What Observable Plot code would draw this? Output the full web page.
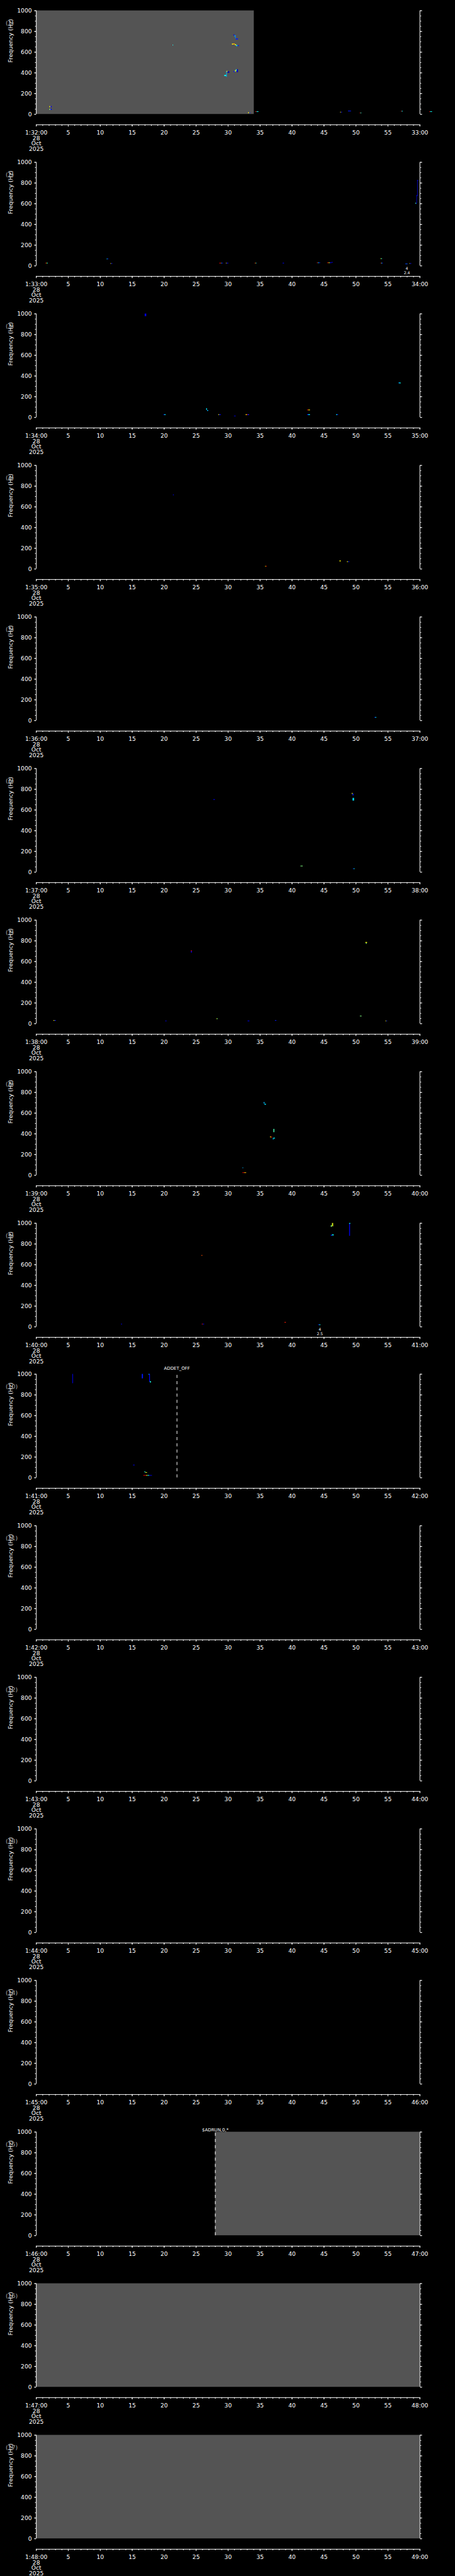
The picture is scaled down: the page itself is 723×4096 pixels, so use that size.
<!DOCTYPE html>
<html>
<head>
<meta charset="utf-8">
<script src="https://cdn.jsdelivr.net/npm/d3@7"></script>
<script src="https://cdn.jsdelivr.net/npm/@observablehq/plot@0.6"></script>
<style>
html, body { margin: 0; padding: 0; background: #000; }
#chart svg { display: block; }
</style>
</head>
<body>
<div id="chart"></div>
<script>
// ---------------- data ----------------
const startLabels = ["1:32:00","1:33:00","1:34:00","1:35:00","1:36:00","1:37:00","1:38:00","1:39:00","1:40:00",
                     "1:41:00","1:42:00","1:43:00","1:44:00","1:45:00","1:46:00","1:47:00","1:48:00"];
const endLabels = ["33:00","34:00","35:00","36:00","37:00","38:00","39:00","40:00","41:00",
                   "42:00","43:00","44:00","45:00","46:00","47:00","48:00","49:00"];
const dateLines = ["28", "Oct", "2025"];
const secMajor = [0,5,10,15,20,25,30,35,40,45,50,55,60];
const freqMajor = [0,200,400,600,800,1000];

// gray (no-data) blocks: panel number, start s, end s
const grayPanels = [1, 15, 16, 17];
const grayStart  = [0, 28, 0, 0];
const grayEnd    = [34.07, 60, 60, 60];

// event markers (dashed line + label)
const eventPanels = [10, 15];
const eventTimes  = [22, 28];
const eventLabels = ["ADDET_OFF", "$ADRUN,0,*"];

// small notes under the plot
const notePanels = [2, 9];
const noteTimes  = [57.96, 44.35];
const noteTexts  = ["4\n2.4", "4\n2.5"];

// spectrogram cells: [t start (s), t end (s), f low (Hz), f high (Hz), level 0..1]
const cells1 = [
  [2.1,2.25,66,76,0.63],[2.25,2.45,66,76,0.12],
  [2.1,2.25,40,50,0.5],[2.25,2.45,40,50,0.12],
  [21.25,21.33,662,670,0.95],[21.33,21.45,662,670,0.38],
  [29.45,29.75,366,378,0.38],[29.75,29.85,358,415,0.3],[29.8,29.95,408,416,0.63],
  [29.96,30.25,398,412,0.05],
  [30.88,31.05,758,768,0.1],[31.05,31.15,745,762,0.3],[31.15,31.25,728,760,0.25],[31.25,31.6,720,730,0.15],
  [30.65,30.85,670,680,0.63],[30.85,31.1,672,682,0.72],[31.1,31.3,664,674,0.6],[31.3,31.5,656,666,0.38],[31.5,31.75,656,664,0.15],
  [30.9,31.1,405,414,0.15],[31.1,31.25,410,422,0.6],[31.25,31.4,416,432,0.45],[31.4,31.6,404,432,0.08],
  [33.15,33.35,9,16,0.63],[33.35,33.55,9,14,0.15],
  [34.3,34.5,20,26,0.9],[34.5,34.8,20,26,0.38],
  [47.57,47.7,15,21,0.63],[47.7,47.88,15,21,0.12],
  [48.8,49.27,26,32,0.15],
  [50.63,50.75,7,13,0.9],[50.75,50.89,7,13,0.42],
  [57.08,57.2,24,30,0.9],[57.2,57.36,24,30,0.38],
  [61.5,61.65,20,26,0.9],[61.65,61.95,20,26,0.38]
];
const cells2 = [
  [1.48,1.6,21,27,0.9],[1.6,1.72,21,27,0.63],[1.72,1.85,21,27,0.38],
  [11.05,11.18,61,67,0.38],[11.18,11.31,61,69,0.1],
  [11.63,11.75,17,23,0.63],[11.75,11.94,17,23,0.12],
  [28.66,28.95,21,27,0.9],[28.95,29.05,21,27,0.4],[29.05,29.25,21,27,0.1],
  [29.7,29.8,21,27,0.63],[29.8,30.08,21,27,0.12],
  [34.2,34.3,21,27,0.9],[34.3,34.4,21,27,0.63],[34.4,34.5,21,27,0.3],
  [38.58,38.8,21,27,0.12],
  [43.94,44.1,24,30,0.9],[44.1,44.25,24,30,0.38],[44.25,44.45,24,30,0.15],
  [45.54,45.75,24,30,0.9],[45.75,45.95,24,30,0.6],[45.95,46.2,24,30,0.12],[46.2,46.42,28,34,0.1],
  [53.88,54.0,64,70,0.63],[54.0,54.13,64,70,0.38],
  [53.88,54.0,21,27,0.9],[54.0,54.12,21,27,0.4],[54.12,54.25,21,27,0.12],
  [57.77,58.12,13,19,0.2],
  [58.4,58.5,17,23,0.63],[58.5,58.7,17,23,0.12],
  [59.32,59.45,598,606,0.45],[59.45,59.52,595,604,0.2],
  [59.5,59.58,600,676,0.08],[59.5,59.68,672,680,0.08],
  [59.62,59.7,674,826,0.08],[59.62,59.78,818,826,0.08]
];
const cells3 = [
  [17.0,17.25,975,1000,0.1],
  [19.95,20.1,20,28,0.15],[20.1,20.27,20,28,0.38],
  [26.62,26.75,70,86,0.35],[26.75,26.95,60,68,0.3],
  [28.52,28.65,20,28,0.63],[28.65,28.89,20,28,0.12],
  [30.97,31.24,8,14,0.08],
  [32.79,32.95,20,28,0.63],[32.95,33.1,20,28,0.85],[33.1,33.33,20,28,0.15],
  [42.4,42.6,66,73,0.9],[42.6,42.85,66,73,0.63],
  [42.4,42.6,20,28,0.15],[42.6,42.85,20,28,0.38],
  [46.94,47.1,20,28,0.38],[47.1,47.25,20,28,0.15],
  [56.73,56.9,326,336,0.3],[56.9,57.05,326,334,0.38]
];
const cells4 = [
  [21.42,21.56,709,717,0.08],
  [35.83,35.95,21,27,0.63],[35.95,36.1,21,27,0.85],
  [47.48,47.66,70,80,0.63],
  [48.62,48.8,65,71,0.63],[48.8,49.02,65,71,0.15]
];
const cells5 = [
  [52.92,53.05,25,31,0.15],[53.05,53.24,25,31,0.35]
];
const cells6 = [
  [27.75,27.98,694,702,0.08],
  [49.39,49.52,752,762,0.63],[49.52,49.66,738,756,0.15],
  [49.52,49.75,688,714,0.35],
  [41.36,41.72,53,59,0.5],
  [49.57,49.7,27,33,0.15],[49.7,49.84,27,33,0.38]
];
const cells7 = [
  [2.72,2.9,25,31,0.63],[2.9,3.13,25,31,0.15],
  [20.23,20.41,21,27,0.12],
  [24.22,24.4,697,705,0.9],[24.22,24.4,685,697,0.1],
  [28.21,28.32,42,48,0.63],[28.32,28.43,42,48,0.45],
  [33.1,33.38,21,27,0.12],
  [37.37,37.6,25,31,0.15],
  [50.66,50.93,68,74,0.5],
  [51.52,51.79,778,786,0.63],[51.6,51.72,768,778,0.5],
  [54.65,54.78,21,27,0.63],[54.78,54.92,21,27,0.15]
];
const cells8 = [
  [35.6,35.75,690,704,0.3],[35.75,35.96,678,688,0.35],
  [36.6,36.75,364,372,0.63],[36.75,36.92,362,370,0.85],
  [37.14,37.28,413,445,0.45],
  [37.05,37.15,341,360,0.3],[37.15,37.37,352,360,0.38],
  [32.29,32.42,66,72,0.3],
  [32.29,32.55,19,25,0.9],[32.55,32.88,19,25,0.7]
];
const cells9 = [
  [13.29,13.47,21,27,0.1],
  [25.85,26.03,684,690,0.8],
  [25.94,26.1,21,27,0.85],[26.1,26.3,21,27,0.12],
  [38.87,39.09,38,44,0.85],
  [44.13,44.3,14,20,0.15],[44.3,44.49,14,20,0.38],
  [46.12,46.25,962,980,0.5],[46.3,46.48,968,1000,0.6],
  [46.12,46.3,876,886,0.15],[46.3,46.57,880,890,0.38],
  [48.98,49.12,876,995,0.1],[48.98,49.16,992,1000,0.38]
];
const cells10 = [
  [5.67,5.8,910,1000,0.06],
  [16.55,16.73,957,1000,0.15],
  [17.6,17.75,992,1000,0.3],[17.7,17.82,925,1000,0.12],[17.8,18.0,918,928,0.4],
  [15.19,15.42,117,123,0.12],
  [16.96,17.1,50,58,0.4],[17.1,17.37,45,51,0.6],
  [16.78,17.2,17,23,0.9],[17.2,17.45,17,23,0.65],[17.45,17.7,17,23,0.38],[17.7,18.14,17,23,0.1]
];
const cells11 = [], cells12 = [], cells13 = [], cells14 = [], cells15 = [], cells16 = [], cells17 = [];

const panelCells = [cells1,cells2,cells3,cells4,cells5,cells6,cells7,cells8,cells9,
                    cells10,cells11,cells12,cells13,cells14,cells15,cells16,cells17];

// ---------------- layout ----------------
const S = 723 / 1024;
const W = 723, H = 4096 / 17;
const topL = 23.5, zeroL = 256.7, axisL = 280.3;      // reference px inside one panel block
const hzPerPx = 1000 / (zeroL - topL);
const yAxisVal = -(axisL - zeroL) * hzPerPx;
const mL = 81 * S, mR = (1024 - 944.3) * S, mT = topL * S, mB = H - axisL * S;

const jet = d3.scaleLinear()
  .domain([0, 0.125, 0.375, 0.625, 0.875, 1])
  .range(["#000080", "#0000ff", "#00ffff", "#ffff00", "#ff0000", "#800000"])
  .clamp(true);

const secMinor = d3.range(0, 61, 1);
const freqMinor = d3.range(0, 1001, 50);
const root = document.getElementById("chart");

for (let i = 0; i < 17; i++) {
  const n = i + 1;
  const marks = [];
  const g = grayPanels.indexOf(n);
  if (g >= 0) {
    marks.push(Plot.rect([{a: grayStart[g], b: grayEnd[g]}],
      {x1: "a", x2: "b", y1: 0, y2: 1000, fill: "#545454"}));
  }
  marks.push(Plot.rect(panelCells[i], {
    x1: d => d[0], x2: d => d[1], y1: d => d[2], y2: d => d[3], fill: d => jet(d[4])
  }));
  eventPanels.forEach((p, k) => {
    if (p !== n) return;
    marks.push(Plot.ruleX([eventTimes[k]], {x: d => d, y1: 0, y2: 1000, stroke: "white",
      strokeWidth: 1, strokeDasharray: `${7 * S},${7 * S}`}));
    marks.push(Plot.text([eventLabels[k]], {x: () => eventTimes[k], text: d => d, frameAnchor: "top",
      dy: (k === 0 ? (6.4 - topL) : (15.5 - topL)) * S, fill: "white", fontSize: 7}));
  });
  notePanels.forEach((p, k) => {
    if (p !== n) return;
    marks.push(Plot.text([noteTexts[k]], {x: () => noteTimes[k], text: d => d, frameAnchor: "bottom",
      lineAnchor: "bottom", lineHeight: 1.08, dy: -3.5, fill: "white", fontSize: 6.1}));
  });
  // axes
  marks.push(
    Plot.ruleX([0, 60], {x: d => d, y1: 0, y2: 1000, stroke: "white", strokeWidth: 1}),
    Plot.ruleY([yAxisVal], {y: d => d, stroke: "white", strokeWidth: 1}),
    Plot.axisY(freqMinor, {anchor: "left", tickSize: 2.4 * S, tickFormat: () => "", label: null}),
    Plot.axisY(freqMajor, {anchor: "left", tickSize: 4.3 * S, tickPadding: 5.7 * S,
      tickFormat: d => String(d), label: null}),
    Plot.axisY(freqMinor, {anchor: "right", tickSize: 2.4 * S, tickFormat: () => "", label: null}),
    Plot.axisY(freqMajor, {anchor: "right", tickSize: 4.3 * S, tickFormat: () => "", label: null}),
    Plot.axisX(secMinor, {anchor: "bottom", tickSize: 3 * S, tickFormat: () => "", label: null}),
    Plot.axisX(secMajor, {anchor: "bottom", tickSize: 4.7 * S, tickPadding: 6.5, lineHeight: 0.92,
      tickFormat: d => d === 0 ? [startLabels[i], ...dateLines].join("\n") : d === 60 ? endLabels[i] : String(d),
      label: null}),
    Plot.text(["Frequency (Hz)"], {y: 500, text: d => d, frameAnchor: "left", dx: (23.3 - 81) * S,
      rotate: -90, fill: "white", fontSize: 9.2}),
    Plot.text([`(${n})`], {text: d => d, frameAnchor: "top-left", dx: (12 - 81) * S, dy: (47 - topL) * S,
      textAnchor: "start", fill: "#a8a8a8", fontSize: 9.4})
  );

  const svg = Plot.plot({
    width: W, height: H,
    marginLeft: mL, marginRight: mR, marginTop: mT, marginBottom: mB,
    x: {type: "linear", domain: [0, 60]},
    y: {type: "linear", domain: [yAxisVal, 1000]},
    style: {background: "black", color: "white", fontFamily: "'DejaVu Sans', sans-serif", fontSize: "9.2px"},
    marks
  });
  root.appendChild(svg);
}
</script>
</body>
</html>
